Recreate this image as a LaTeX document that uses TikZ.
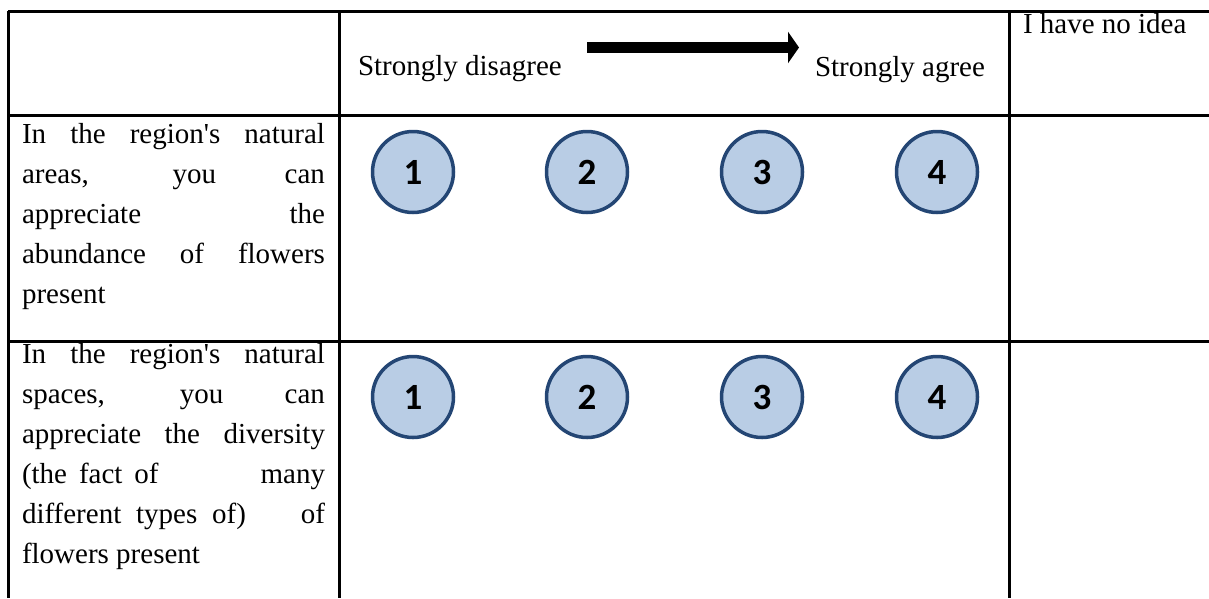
\documentclass[tikz,border=0pt]{standalone}
\usepackage{fontspec}
\setmainfont{Liberation Serif}
\newfontfamily\scorefont{Carlito}
\usepackage{tikz}
\usetikzlibrary{positioning,arrows.meta}
\definecolor{ScoreFill}{HTML}{B9CDE5}
\definecolor{ScoreLine}{HTML}{244674}
\newlength{\itemw}
\setlength{\itemw}{303pt}

\begin{document}
\begin{tikzpicture}[x=1pt, y=-1pt,
                    every node/.style={inner sep=0pt, outer sep=0pt},
                    grid/.style={line width=3pt, black},
                    label/.style={anchor=base west, font=\fontsize{29}{40}\selectfont},
                    item/.style={anchor=north west, align=left, font=\fontsize{29}{40}\selectfont},
                    score/.style={circle, draw=ScoreLine, fill=ScoreFill, line width=3.5pt,
                                  minimum size=81pt, font=\scorefont\bfseries\fontsize{37}{37}\selectfont}]
\useasboundingbox (0,0) rectangle (1209,598);
% table rules
\draw[grid] (8,11) -- (1209,11);
\draw[grid] (8,115) -- (1209,115);
\draw[grid] (8,341) -- (1209,341);
\draw[grid] (8,11) -- (8,598);
\draw[grid] (339,11) -- (339,598);
\draw[grid] (1009,11) -- (1009,598);
% header
\node[label] (disagree) at (358,75) {Strongly disagree};
\node[label] (agree) at (815,76) {Strongly agree};
\node[label] (noidea) at (1023,33) {I have no idea};
\coordinate (arrS) at (587,47.5);
\coordinate (arrE) at (799,47.5);
\draw[line width=11pt, -{Triangle[length=11pt, width=31pt]}] (arrS) -- (arrE);
% row items
\node[item] (abund) at (22,123) {%
  \makebox[\itemw][s]{In the region\textquotesingle s natural}\\
  \makebox[\itemw][s]{areas, you can}\\
  \makebox[\itemw][s]{appreciate the}\\
  \makebox[\itemw][s]{abundance of flowers}\\
  present};
\node[item] (divers) at (22,343) {%
  \makebox[\itemw][s]{In the region\textquotesingle s natural}\\
  \makebox[\itemw][s]{spaces, you can}\\
  \makebox[\itemw][s]{appreciate the diversity}\\
  \makebox[\itemw][s]{(the fact of\hspace{90pt} many}\\
  \makebox[\itemw][s]{different types of)\hspace{40pt} of}\\
  flowers present};
% scale circles
\node[score] (a1) at (413,172) {1};
\node[score] (a2) at (587,172) {2};
\node[score] (a3) at (762,172) {3};
\node[score] (a4) at (937,172) {4};
\node[score] (b1) at (413,397) {1};
\node[score] (b2) at (587,397) {2};
\node[score] (b3) at (762,397) {3};
\node[score] (b4) at (937,397) {4};
\end{tikzpicture}
\end{document}
